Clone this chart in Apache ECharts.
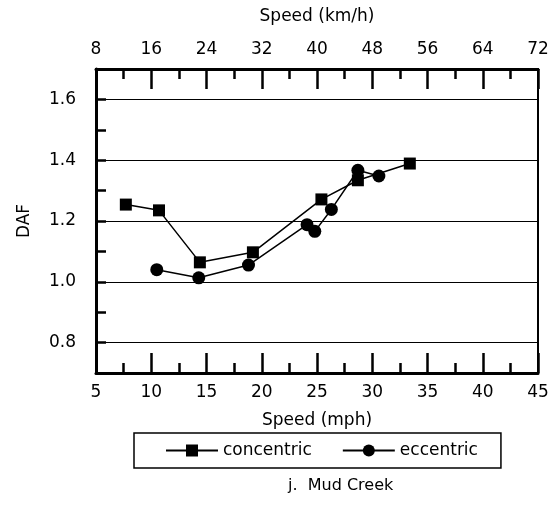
<!DOCTYPE html>
<html>
<head>
<meta charset="utf-8">
<script src="https://cdn.jsdelivr.net/npm/echarts@6/dist/echarts.min.js"></script>
<style>
  html, body { margin: 0; padding: 0; background: #fff; }
  #chart { width: 554px; height: 508px; }
</style>
</head>
<body>
<div id="chart"></div>
<script>
(function () {
  'use strict';

  // values (speed in mph, DAF)
  const concMph = [7.7, 10.7, 14.4, 19.2, 25.4, 28.7, 33.4];
  const concDaf = [1.254, 1.235, 1.064, 1.097, 1.271, 1.334, 1.389];
  const eccMph = [10.5, 14.3, 18.8, 24.1, 24.8, 26.3, 28.7, 30.6];
  const eccDaf = [1.04, 1.013, 1.055, 1.188, 1.166, 1.238, 1.367, 1.348];
  const gridValues = [0.8, 1.0, 1.2, 1.4, 1.6];
  const seriesNames = ['concentric', 'eccentric'];

  const font = 'DejaVu Sans, Verdana, sans-serif';
  const black = '#000';

  function pairs(xs, ys) { return xs.map((x, i) => [x, ys[i]]); }

  // one x axis = labels + long ticks, a second one on the same side = short ticks only
  function xAxisPair(pos, min, max, step, name, gap) {
    const major = {
      type: 'value', position: pos, min: min, max: max, interval: step,
      name: name, nameLocation: 'middle', nameGap: gap,
      nameTextStyle: { fontFamily: font, fontSize: 17, color: black },
      axisLine: { show: true, onZero: false, lineStyle: { color: black, width: 3 } },
      axisTick: { show: true, inside: true, length: 20, lineStyle: { color: black, width: 2.5 } },
      axisLabel: { margin: 11, fontFamily: font, fontSize: 17, color: black },
      splitLine: { show: false }
    };
    const minor = {
      type: 'value', position: pos, min: min, max: max, interval: step / 2,
      axisLine: { show: false, onZero: false },
      axisTick: { show: true, inside: true, length: 10, lineStyle: { color: black, width: 2.5 } },
      axisLabel: { show: false },
      splitLine: { show: false }
    };
    return [major, minor];
  }

  const chart = echarts.init(document.getElementById('chart'), null, { renderer: 'canvas' });

  chart.setOption({
    animation: false,
    backgroundColor: '#fff',
    textStyle: { fontFamily: font, color: black },
    title: {
      text: 'j.  Mud Creek',
      left: 283, top: 473,
      textStyle: { fontFamily: font, fontSize: 16, fontWeight: 'normal', color: black }
    },
    grid: { left: 96, right: 16, top: 69, bottom: 135, show: true, borderColor: black, borderWidth: 2, backgroundColor: 'transparent' },
    legend: {
      data: seriesNames,
      left: 134, top: 433,
      orient: 'horizontal',
      padding: [9, 23, 9, 31],
      itemGap: 30,
      itemWidth: 52, itemHeight: 15,
      borderColor: black, borderWidth: 1.5,
      textStyle: { fontFamily: font, fontSize: 17, color: black }
    },
    xAxis: xAxisPair('bottom', 5, 45, 5, 'Speed (mph)', 39)
      .concat(xAxisPair('top', 8, 72, 8, 'Speed (km/h)', 44)),
    yAxis: {
      type: 'value', min: 0.7, max: 1.7, interval: 0.1,
      name: 'DAF', nameLocation: 'middle', nameGap: 63, nameRotate: 90,
      nameTextStyle: { fontFamily: font, fontSize: 17, color: black },
      axisLine: { show: true, onZero: false, lineStyle: { color: black, width: 3 } },
      axisTick: { show: true, inside: true, length: 10, lineStyle: { color: black, width: 2.5 } },
      axisLabel: {
        margin: 20, fontFamily: font, fontSize: 17, color: black,
        formatter: v => (Math.round(v * 10) % 2 === 0 ? v.toFixed(1) : '')
      },
      splitLine: { show: false }
    },
    series: [
      {
        name: seriesNames[0], type: 'line', xAxisIndex: 0,
        data: pairs(concMph, concDaf),
        symbol: 'rect', symbolSize: 12,
        itemStyle: { color: black },
        lineStyle: { color: black, width: 1.5 },
        markLine: {
          silent: true, symbol: 'none', animation: false,
          label: { show: false },
          lineStyle: { color: black, width: 1, type: 'solid' },
          data: gridValues.map(v => ({ yAxis: v }))
        }
      },
      {
        name: seriesNames[1], type: 'line', xAxisIndex: 0,
        data: pairs(eccMph, eccDaf),
        symbol: 'circle', symbolSize: 13,
        itemStyle: { color: black },
        lineStyle: { color: black, width: 1.5 }
      }
    ]
  });
})();
</script>
</body>
</html>
